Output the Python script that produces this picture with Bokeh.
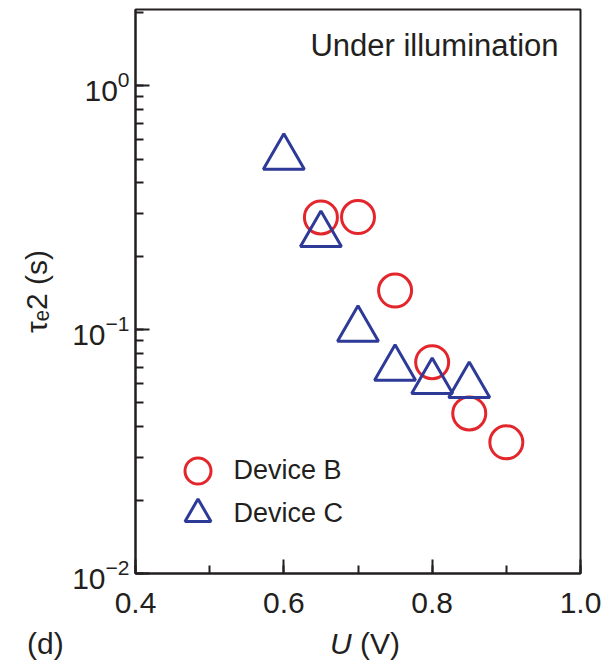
from bokeh.plotting import figure
from bokeh.layouts import column
from bokeh.models import (Legend, LegendItem, Label, SingleIntervalTicker, Div,
                          PrintfTickFormatter, LogTicker, LogTickFormatter, Range1d)
from bokeh.embed import file_html
from bokeh.resources import INLINE

# ---- data ----
u_b = [0.65, 0.70, 0.75, 0.80, 0.85, 0.90]
tau_b = [0.288, 0.289, 0.1445, 0.0735, 0.0453, 0.0345]
u_c = [0.60, 0.65, 0.70, 0.75, 0.80, 0.85]
tau_c = [0.507, 0.245, 0.100, 0.0692, 0.0612, 0.0589]
label_b = "Device B"
label_c = "Device C"

FONT = "Liberation Sans"
INK = "#231f20"
RED = "#e3262b"
BLUE = "#2e3a97"

p = figure(width=608, height=628, output_backend="svg", toolbar_location=None,
           y_axis_type="log",
           x_range=Range1d(0.4, 1.0), y_range=Range1d(0.01, 2.05),
           min_border_left=135, min_border_right=28, min_border_top=9,
           min_border_bottom=55)
p.background_fill_color = "white"
p.border_fill_color = "white"
p.outline_line_color = INK
p.outline_line_width = 2
p.grid.visible = False

rb = p.scatter(u_b, tau_b, marker="circle", size=33, fill_alpha=0,
               line_color=RED, line_width=3)
rc = p.scatter(u_c, tau_c, marker="triangle", size=41, fill_alpha=0,
               line_color=BLUE, line_width=3)

# axes
xa = p.xaxis[0]
xa.ticker = SingleIntervalTicker(interval=0.2, num_minor_ticks=2)
xa.formatter = PrintfTickFormatter(format="%.1f")
ya = p.yaxis[0]
ya.ticker = LogTicker(num_minor_ticks=10)
ya.formatter = LogTickFormatter()
for ax in (xa, ya):
    ax.axis_line_color = INK
    ax.axis_line_width = 2
    ax.major_tick_line_color = INK
    ax.major_tick_line_width = 2
    ax.minor_tick_line_color = INK
    ax.minor_tick_line_width = 2
    ax.major_tick_in = 14
    ax.major_tick_out = 0
    ax.minor_tick_in = 8
    ax.minor_tick_out = 0
    ax.major_label_text_font = FONT
    ax.major_label_text_font_size = "30px"
    ax.major_label_text_color = INK
xa.major_label_standoff = 19
ya.major_label_standoff = 6
ya.axis_label = "τₑ2 (s)"
ya.axis_label_text_font = FONT
ya.axis_label_text_font_size = "30px"
ya.axis_label_text_font_style = "normal"
ya.axis_label_text_color = INK
ya.axis_label_standoff = 16

# legends (one per entry)
for r, lab, ybot in ((rb, label_b, 70.5), (rc, label_c, 27.5)):
    lg = Legend(items=[LegendItem(label=lab, renderers=[r])],
                location=(29.5, ybot), glyph_width=65, glyph_height=65,
                padding=0, margin=0, label_standoff=4,
                label_text_font=FONT, label_text_font_size="27px",
                label_text_color=INK,
                background_fill_alpha=0, border_line_alpha=0)
    p.add_layout(lg, "center")

# annotation text inside the frame
p.add_layout(Label(x=423, y=528, x_units="screen", y_units="screen",
                   text="Under illumination", text_align="right",
                   text_baseline="alphabetic", text_font=FONT,
                   text_font_size="31px", text_color=INK))

# bottom row: panel tag and x axis title
bottom = Div(width=608, height=36, text=(
    "<div style=\"position:relative;width:608px;height:36px;"
    "font-family:'Liberation Sans';font-size:30px;line-height:30px;color:#231f20\">"
    "<span style=\"position:absolute;left:22px;top:-4px\">(d)</span>"
    "<span style=\"position:absolute;left:325px;top:-4px\"><i>U</i> (V)</span>"
    "</div>"))

layout = column(p, bottom, spacing=0)
open("out.html", "w").write(file_html(layout, INLINE))
